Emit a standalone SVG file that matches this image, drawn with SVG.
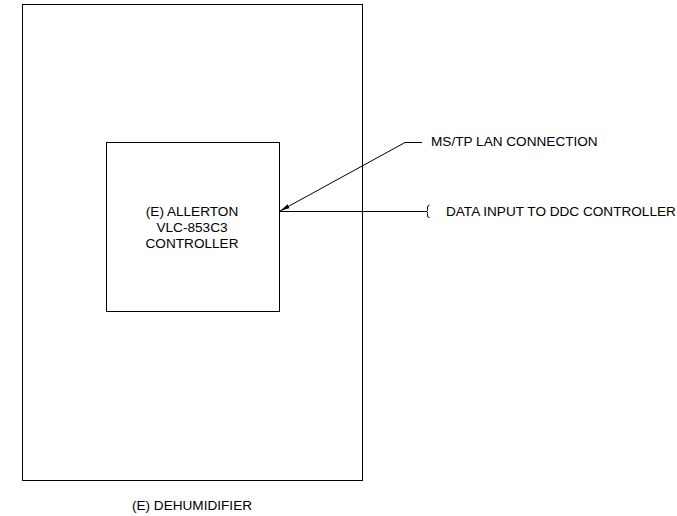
<svg xmlns="http://www.w3.org/2000/svg" width="677" height="516" viewBox="0 0 677 516">
<style>
.box{fill:none;stroke:#000;stroke-width:1}
.ln{fill:none;stroke:#000;stroke-width:1}
text{font-family:"Liberation Sans",Arial,sans-serif;font-size:13.6px;fill:#000}
.c{text-anchor:middle}
</style>
<defs>
<marker id="arr" markerWidth="12" markerHeight="6" refX="10" refY="3" orient="auto" markerUnits="userSpaceOnUse">
<path d="M0,0.8 L10,3 L0,5.2 Z" fill="#000"/>
</marker>
</defs>
<rect width="677" height="516" fill="#fff"/>
<g id="dehumidifier">
<rect class="box" x="22.5" y="4.5" width="340" height="476"/>
<text class="c" x="192" y="509.5">(E) DEHUMIDIFIER</text>
</g>
<g id="controller">
<rect class="box" x="106.5" y="142.5" width="173" height="169"/>
<text class="c" x="192" y="216">(E) ALLERTON</text>
<text class="c" x="192" y="232">VLC-853C3</text>
<text class="c" x="192" y="248">CONTROLLER</text>
</g>
<g id="connectors">
<polyline class="ln" points="422,142.5 405,142.5 280,211" marker-end="url(#arr)"/>
<line class="ln" x1="279.5" y1="211.5" x2="427" y2="211.5"/>
<path class="ln" d="M429.5,205 Q427,205.5 427.5,208 L427.5,209.5 Q427.5,211.5 426.5,211.5 Q427.5,211.5 427.5,213.5 L427.5,215 Q427,217.5 429.5,217.5"/>
</g>
<g id="labels">
<text x="431" y="146">MS/TP LAN CONNECTION</text>
<text x="446" y="215.5">DATA INPUT TO DDC CONTROLLER</text>
</g>
</svg>
